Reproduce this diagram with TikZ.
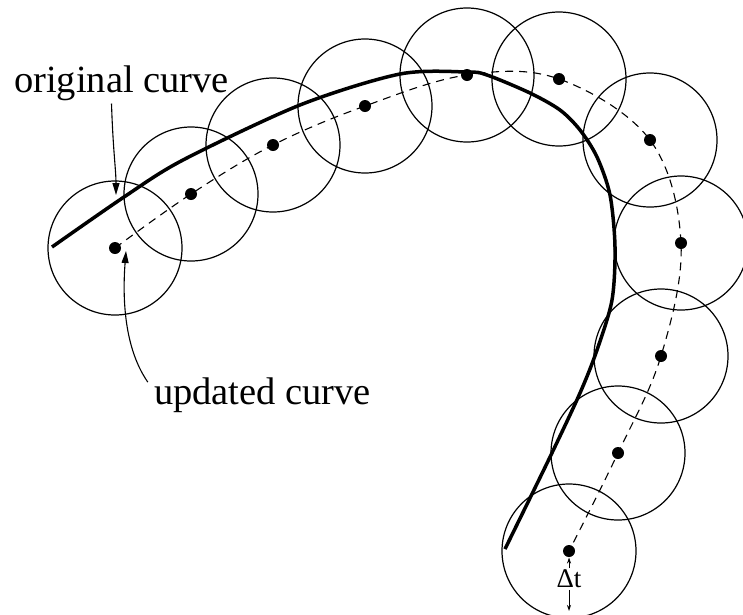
\documentclass[tikz,border=0pt]{standalone}
\usepackage{fontspec}
\setmainfont{Liberation Serif}
\usetikzlibrary{arrows.meta, calc}
\tikzset{ring/.style={line width=1.2pt},
  dashcurve/.style={line width=1.1pt, dash pattern=on 8pt off 6pt},
  thickcurve/.style={line width=3.5pt},
  lbl/.style={font=\fontsize{38.5}{40}\selectfont, inner sep=0pt},
  lblarrow/.style={line width=1.1pt, -{Triangle[length=12pt,width=7pt]}},
  dtarrow/.style={line width=0.9pt, -{Stealth[length=6pt,width=4pt]}}}

\begin{document}
\begin{tikzpicture}[x=1pt,y=-1pt]
\useasboundingbox (0,0) rectangle (743,614);
\clip (0,0) rectangle (743,614);
% points of the updated curve
\coordinate (p1) at (115,248);
\coordinate (p2) at (191,194);
\coordinate (p3) at (273,145);
\coordinate (p4) at (365,106);
\coordinate (p5) at (467,75);
\coordinate (p6) at (559,79);
\coordinate (p7) at (650,140);
\coordinate (p8) at (681,243);
\coordinate (p9) at (661,356);
\coordinate (p10) at (618,453);
\coordinate (p11) at (569,551);
% circles round each point
\foreach \i in {1,...,11} \draw[ring] (p\i) circle[radius=67pt];
% original curve
\draw[thickcurve] plot[smooth, tension=0.5] coordinates {(52,247) (124,197) (183,160) (300,105) (400,74) (467,72) (487,75) (530,93) (560,110) (580,130) (597,157) (610,195) (615,247) (612,300) (597,350) (580,393) (550,457) (505,549)};
% updated curve
\draw[dashcurve] plot[smooth, tension=0.6] coordinates {(p1) (p2) (p3) (p4) (p5) (p6) (p7) (p8) (p9) (p10) (p11)};
\foreach \i in {1,...,11} \fill (p\i) circle[radius=6pt];
% labels
\node[lbl, anchor=base] (orig) at (121.5,92) {original curve};
\coordinate (otip) at (116,195);
\draw[lblarrow] ($(orig.south)+(-10,3)$) .. controls (113,150) and (116,170) .. (otip);
\node[lbl, anchor=base] (upd) at (262.5,404) {updated curve};
\coordinate (utip) at (126,251);
\draw[lblarrow] ($(upd.north west)+(-6,5)$) .. controls (122,345) and (123,290) .. (utip);
% Delta t
\node[font=\fontsize{27}{29}\selectfont, inner sep=1.5pt] (dt) at (569,579) {Δt};
\coordinate (cbot) at (569,611);
\draw[dtarrow] (dt.north) -- ($(p11)+(0,6.5)$);
\draw[dtarrow] (dt.south) -- (cbot);
\end{tikzpicture}
\end{document}
